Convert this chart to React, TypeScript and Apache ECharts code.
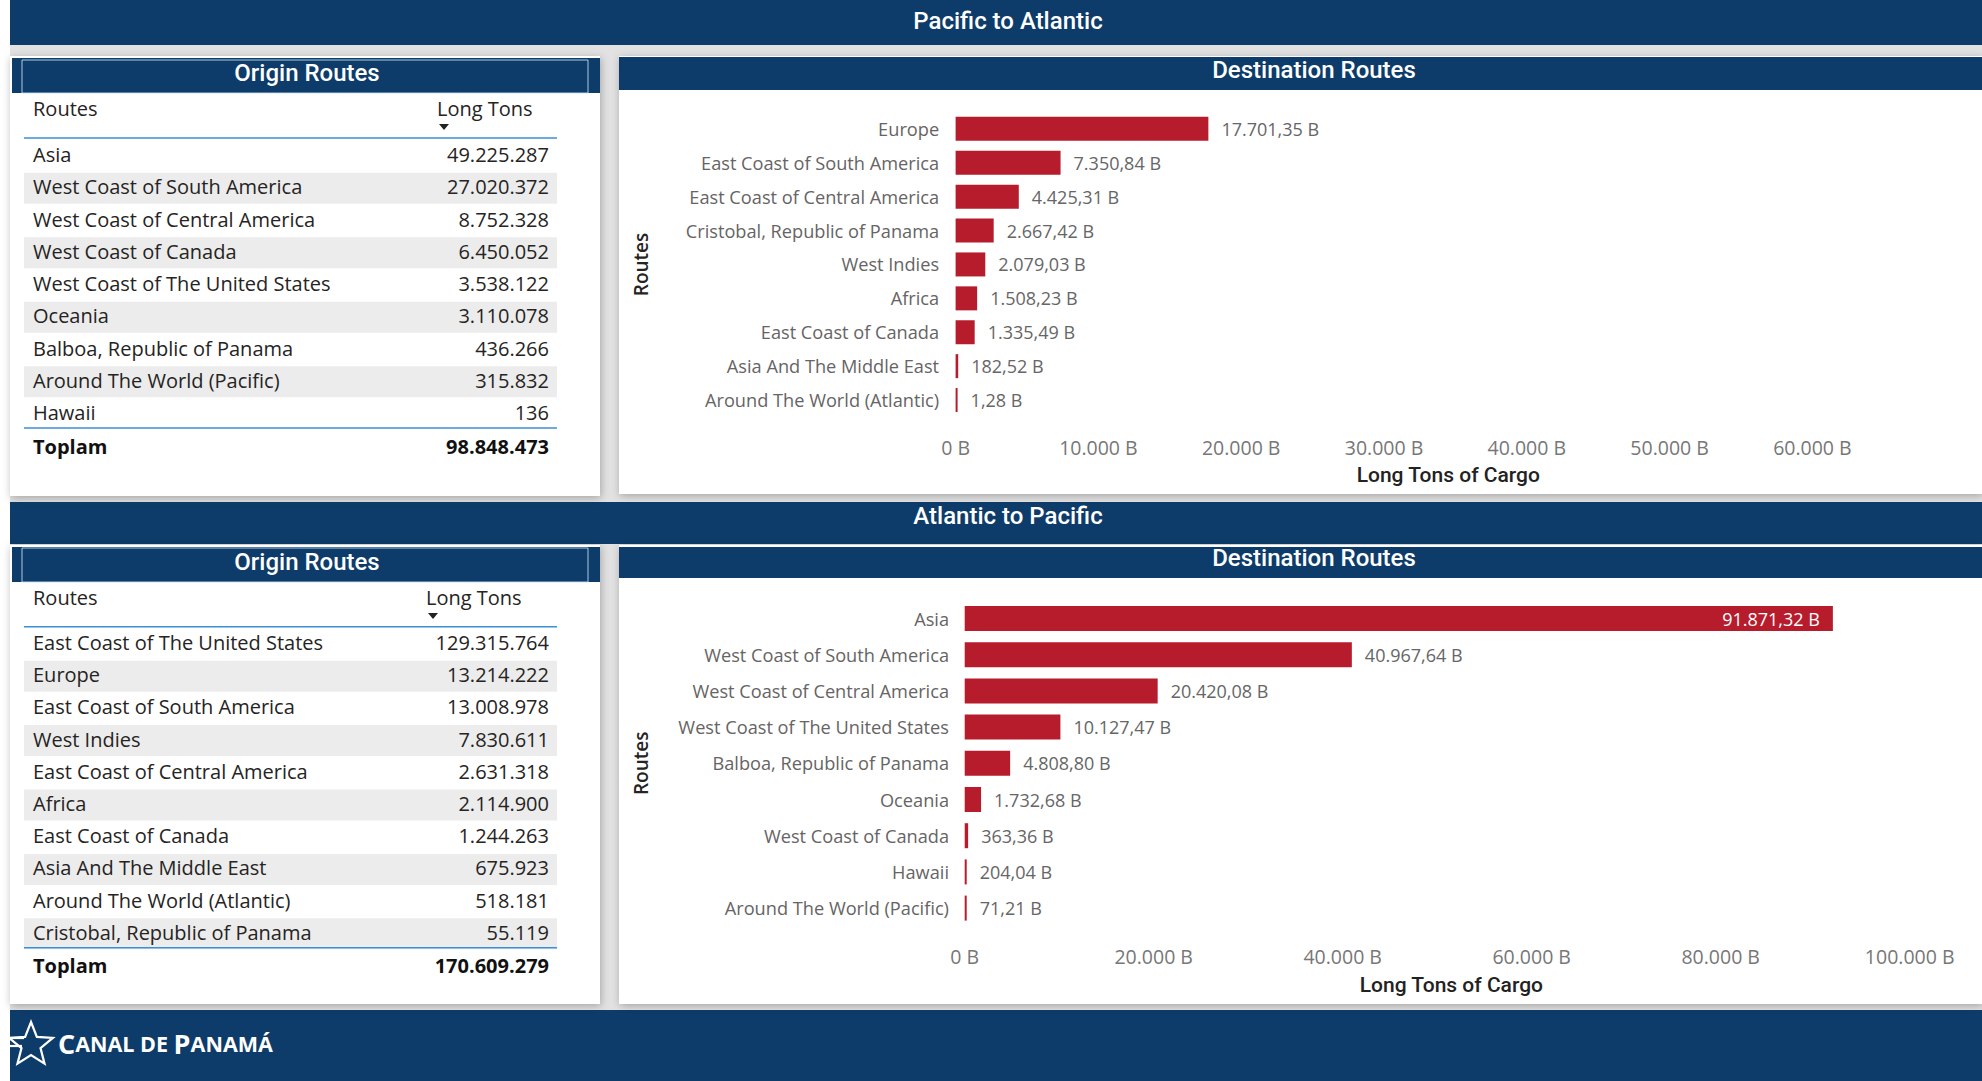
import React, { useEffect, useRef } from "react";
import * as echarts from "echarts";

// ---------- data ----------
const topTitle = "Pacific to Atlantic";
const bottomTitle = "Atlantic to Pacific";
const originTitle = "Origin Routes";
const destTitle = "Destination Routes";
const colRoutes = "Routes";
const colTons = "Long Tons";
const totalLabel = "Toplam";
const axisTitle = "Long Tons of Cargo";
const footerBrand = ["C", "ANAL DE ", "P", "ANAMÁ"];

const originTopRoutes = [
  "Asia",
  "West Coast of South America",
  "West Coast of Central America",
  "West Coast of Canada",
  "West Coast of The United States",
  "Oceania",
  "Balboa, Republic of Panama",
  "Around The World (Pacific)",
  "Hawaii",
];
const originTopTons = [49225287, 27020372, 8752328, 6450052, 3538122, 3110078, 436266, 315832, 136];

const destTopRoutes = [
  "Europe",
  "East Coast of South America",
  "East Coast of Central America",
  "Cristobal, Republic of Panama",
  "West Indies",
  "Africa",
  "East Coast of Canada",
  "Asia And The Middle East",
  "Around The World (Atlantic)",
];
const destTopValues = [17701.35, 7350.84, 4425.31, 2667.42, 2079.03, 1508.23, 1335.49, 182.52, 1.28];

const originBottomRoutes = [
  "East Coast of The United States",
  "Europe",
  "East Coast of South America",
  "West Indies",
  "East Coast of Central America",
  "Africa",
  "East Coast of Canada",
  "Asia And The Middle East",
  "Around The World (Atlantic)",
  "Cristobal, Republic of Panama",
];
const originBottomTons = [129315764, 13214222, 13008978, 7830611, 2631318, 2114900, 1244263, 675923, 518181, 55119];

const destBottomRoutes = [
  "Asia",
  "West Coast of South America",
  "West Coast of Central America",
  "West Coast of The United States",
  "Balboa, Republic of Panama",
  "Oceania",
  "West Coast of Canada",
  "Hawaii",
  "Around The World (Pacific)",
];
const destBottomValues = [91871.32, 40967.64, 20420.08, 10127.47, 4808.8, 1732.68, 363.36, 204.04, 71.21];

const topTickStep = 10000;
const topAxisMax = 69000;
const bottomTickStep = 20000;
const bottomAxisMax = 103000;

// ---------- styles ----------
const NAVY = "#0d3c6a";
const RED = "#b71c2c";
const BLUE_LINE = "#3a8fd6";
const TXT = "#252423";
const GRAY_TXT = "#666464";
const FONT = "'Open Sans', 'Noto Sans', sans-serif";
const TFONT = "Roboto, 'Noto Sans', sans-serif";
const TABLE_SIZE = 20;

const fmtInt = (n: number) => String(Math.round(n)).replace(/\B(?=(\d{3})+(?!\d))/g, ".");
const fmtDec = (v: number) => {
  const [i, d] = v.toFixed(2).split(".");
  return fmtInt(Number(i)) + "," + d;
};

function rect(x: number, y: number, w: number, h: number, fill: string, extra: any = {}) {
  return { type: "rect", silent: true, shape: { x, y, width: w, height: h }, style: { fill, ...extra } };
}
function txt(x: number, y: number, text: string, o: any = {}) {
  const align = o.align || "left";
  return {
    type: "text",
    silent: true,
    style: {
      x,
      y,
      text,
      fill: o.fill || TXT,
      fontSize: o.size || 18,
      fontFamily: o.family || FONT,
      fontWeight: o.weight || "normal",
      align,
      textAlign: align,
      verticalAlign: "middle",
      textVerticalAlign: "middle",
      ...(o.rich ? { rich: o.rich } : {}),
    },
  };
}
function hline(x1: number, x2: number, y: number, color: string, w = 1.5) {
  return { type: "line", silent: true, shape: { x1, y1: y, x2, y2: y }, style: { stroke: color, lineWidth: w } };
}

function table(names: string[], vals: number[], p: any) {
  const els: any[] = [];
  const L = 24, R = 557, TX = 33, VX = 549;
  const T = -1.5; // text baseline nudge
  names.forEach((_, i) => {
    if (i % 2 === 1) els.push(rect(L, p.rowY0 + i * p.pitch - 15.5, R - L, 31, "#ececec"));
  });
  els.push(txt(TX, p.headerY + T, colRoutes, { size: TABLE_SIZE }));
  els.push(txt(p.tonsX, p.headerY + T, colTons, { size: TABLE_SIZE }));
  els.push({
    type: "polygon",
    silent: true,
    shape: { points: [[p.tonsX + 2, p.arrowY - 3], [p.tonsX + 12, p.arrowY - 3], [p.tonsX + 7, p.arrowY + 3]] },
    style: { fill: "#222" },
  });
  els.push(hline(L, R, p.lineY, BLUE_LINE));
  names.forEach((n, i) => {
    const y = p.rowY0 + i * p.pitch + T;
    els.push(txt(TX, y, n, { size: TABLE_SIZE }));
    els.push(txt(VX, y, fmtInt(vals[i]), { size: TABLE_SIZE, align: "right" }));
  });
  const last = p.rowY0 + (names.length - 1) * p.pitch;
  const tl = last + 14;
  els.push(hline(L, R, tl, BLUE_LINE));
  const total = vals.reduce((a, b) => a + b, 0);
  els.push(txt(TX, tl + 19.5 + T, totalLabel, { size: TABLE_SIZE, weight: "bold", fill: "#111" }));
  els.push(txt(VX, tl + 19.5 + T, fmtInt(total), { size: TABLE_SIZE, weight: "bold", fill: "#111", align: "right" }));
  return els;
}

function starPoints(cx: number, cy: number, R: number, r: number) {
  const pts: number[][] = [];
  for (let k = 0; k < 10; k++) {
    const a = -Math.PI / 2 + (k * Math.PI) / 5;
    const rr = k % 2 === 0 ? R : r;
    pts.push([cx + rr * Math.cos(a), cy + rr * Math.sin(a)]);
  }
  return pts;
}

function buildGraphic() {
  const els: any[] = [];
  els.push(rect(0, 0, 1982, 1081, "#ffffff"));
  els.push(rect(10, 0, 1972, 1081, "#e2e2e2"));
  // banners
  els.push(rect(10, 0, 1972, 45, NAVY));
  els.push(txt(1008, 21, topTitle, { fill: "#fff", size: 24, family: TFONT, weight: 500, align: "center" }));
  els.push(rect(10, 502, 1972, 42, NAVY));
  els.push(txt(1008, 516, bottomTitle, { fill: "#fff", size: 24, family: TFONT, weight: 500, align: "center" }));
  // footer
  els.push(rect(10, 1010, 1972, 71, NAVY));

  const shadow = { shadowBlur: 8, shadowColor: "rgba(0,0,0,0.28)", shadowOffsetX: 1, shadowOffsetY: 2 };
  // top panels
  els.push(rect(10, 56, 590, 440, "#ffffff", shadow));
  els.push(rect(12, 58, 588, 35, NAVY));
  els.push({ type: "rect", silent: true, shape: { x: 22, y: 60, width: 566, height: 33 }, style: { fill: "none", stroke: "rgba(200,225,245,0.85)", lineWidth: 1 } });
  els.push(txt(307, 73, originTitle, { fill: "#fff", size: 24, family: TFONT, weight: 500, align: "center" }));
  els.push(rect(619, 56, 1363, 438, "#ffffff", shadow));
  els.push(rect(619, 57, 1363, 33, NAVY));
  els.push(txt(1314, 70, destTitle, { fill: "#fff", size: 24, family: TFONT, weight: 500, align: "center" }));
  // bottom panels
  els.push(rect(10, 545, 590, 459, "#ffffff", shadow));
  els.push(rect(12, 547, 588, 35, NAVY));
  els.push({ type: "rect", silent: true, shape: { x: 22, y: 548, width: 566, height: 34 }, style: { fill: "none", stroke: "rgba(200,225,245,0.85)", lineWidth: 1 } });
  els.push(txt(307, 562, originTitle, { fill: "#fff", size: 24, family: TFONT, weight: 500, align: "center" }));
  els.push(rect(619, 545, 1363, 459, "#ffffff", shadow));
  els.push(rect(619, 547, 1363, 31, NAVY));
  els.push(txt(1314, 558, destTitle, { fill: "#fff", size: 24, family: TFONT, weight: 500, align: "center" }));

  els.push(...table(originTopRoutes, originTopTons, { headerY: 110, tonsX: 437, arrowY: 127, lineY: 138, rowY0: 156, pitch: 32.25 }));
  els.push(...table(originBottomRoutes, originBottomTons, { headerY: 599, tonsX: 426, arrowY: 616, lineY: 626.7, rowY0: 644, pitch: 32.2 }));

  // footer logo
  els.push({ type: "polygon", silent: true, shape: { points: starPoints(31, 1045, 23, 10) }, style: { fill: NAVY, stroke: "#fff", lineWidth: 2.2 } });
  els.push(hline(8, 24, 1038, "#fff", 2.2));
  els.push(hline(8, 22, 1046, "#fff", 2.2));
  els.push(
    txt(58, 1043, `{b|${footerBrand[0]}}{s|${footerBrand[1]}}{b|${footerBrand[2]}}{s|${footerBrand[3]}}`, {
      fill: "#fff",
      rich: {
        b: { fontSize: 27, fontWeight: 700, fontFamily: FONT, fill: "#fff", color: "#fff" },
        s: { fontSize: 21.5, fontWeight: 700, fontFamily: FONT, fill: "#fff", color: "#fff" },
      },
    })
  );
  return els;
}

function barData(vals: number[], max: number) {
  return vals.map((v) =>
    v > max * 0.85
      ? { value: v, label: { position: "insideRight", color: "#ffffff", distance: 13 } }
      : v
  );
}

export default function App() {
  const ref = useRef<HTMLDivElement>(null);
  useEffect(() => {
    if (!ref.current) return;
    const chart = echarts.init(ref.current, undefined, { renderer: "svg" });
    const axisLabelX = (step: number) => ({
      formatter: (v: number) => (v % step === 0 ? fmtInt(v) + " B" : ""),
      color: "#777",
      fontSize: 19.5,
      fontFamily: FONT,
      margin: 20,
    });
    const xName = { color: "#222", fontSize: 21, fontFamily: TFONT, fontWeight: 500 };
    const yName = { color: TXT, fontSize: 19, fontFamily: FONT, fontWeight: 600 };
    const yLabel = (m: number) => ({ color: GRAY_TXT, fontSize: 18.2, fontFamily: FONT, margin: m });
    const valLabel = {
      show: true,
      position: "right",
      distance: 13,
      color: "#666",
      fontSize: 18,
      fontFamily: FONT,
      formatter: (p: any) => fmtDec(p.value) + " B",
    };
    const topMaxVal = Math.max(...destTopValues);
    const botMaxVal = Math.max(...destBottomValues);
    chart.setOption({
      animation: false,
      backgroundColor: "#ffffff",
      graphic: { elements: buildGraphic() },
      grid: [
        { left: 955.6, top: 111.9, width: topAxisMax * 0.01428, height: 305.1 },
        { left: 964.7, top: 600.4, width: bottomAxisMax * 0.00945, height: 325.8 },
      ],
      xAxis: [
        {
          gridIndex: 0, type: "value", min: 0, max: topAxisMax, interval: topTickStep, z: 10,
          splitLine: { show: false }, axisLine: { show: false }, axisTick: { show: false },
          axisLabel: axisLabelX(topTickStep),
          name: axisTitle, nameLocation: "middle", nameGap: 47, nameTextStyle: xName,
        },
        {
          gridIndex: 1, type: "value", min: 0, max: bottomAxisMax, interval: bottomTickStep, z: 10,
          splitLine: { show: false }, axisLine: { show: false }, axisTick: { show: false },
          axisLabel: axisLabelX(bottomTickStep),
          name: axisTitle, nameLocation: "middle", nameGap: 48, nameTextStyle: xName,
        },
      ],
      yAxis: [
        {
          gridIndex: 0, type: "category", data: destTopRoutes, inverse: true, z: 10,
          axisLine: { show: false }, axisTick: { show: false }, axisLabel: yLabel(16.5),
          name: colRoutes, nameLocation: "middle", nameRotate: 90, nameGap: 305, nameTextStyle: yName,
        },
        {
          gridIndex: 1, type: "category", data: destBottomRoutes, inverse: true, z: 10,
          axisLine: { show: false }, axisTick: { show: false }, axisLabel: yLabel(15.7),
          name: colRoutes, nameLocation: "middle", nameRotate: 90, nameGap: 314, nameTextStyle: yName,
        },
      ],
      series: [
        {
          type: "bar", xAxisIndex: 0, yAxisIndex: 0, z: 10, barWidth: 24, barMinHeight: 2,
          itemStyle: { color: RED }, label: valLabel, data: barData(destTopValues, topMaxVal * 1.2),
        },
        {
          type: "bar", xAxisIndex: 1, yAxisIndex: 1, z: 10, barWidth: 25, barMinHeight: 2,
          itemStyle: { color: RED }, label: valLabel, data: barData(destBottomValues, botMaxVal),
        },
      ],
    });
    return () => chart.dispose();
  }, []);
  return <div ref={ref} style={{ position: "fixed", left: 0, top: 0, width: 1982, height: 1081 }} />;
}
